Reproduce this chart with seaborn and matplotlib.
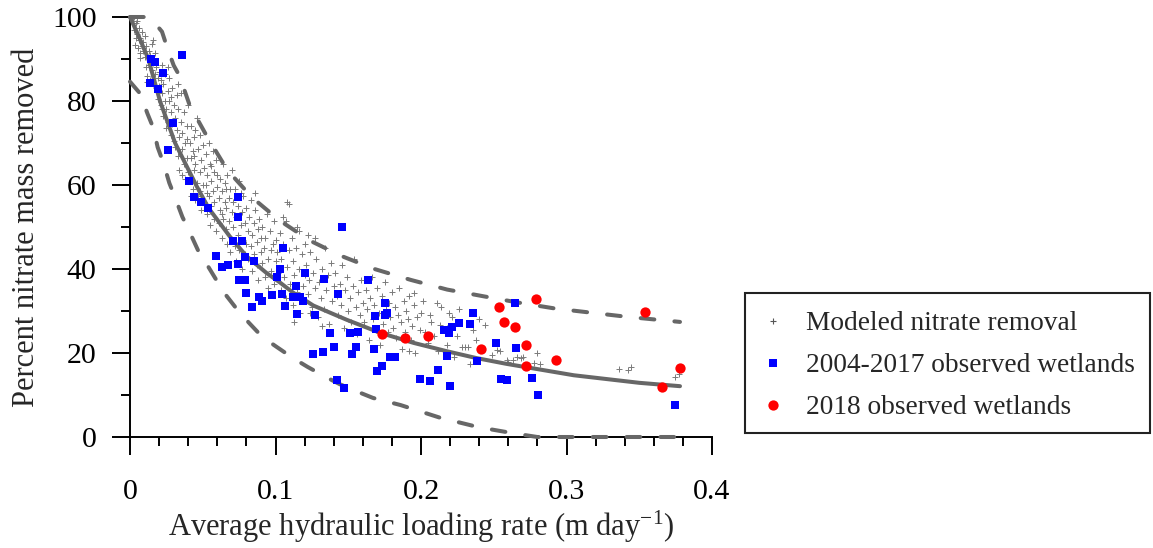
import matplotlib
matplotlib.use('Agg')
import matplotlib.pyplot as plt
import seaborn as sns
from matplotlib.ticker import MultipleLocator
from matplotlib.lines import Line2D
from matplotlib.patches import Rectangle

# ---------------- data ----------------
# modeled nitrate removal (small grey crosses)
mod_x = [
    0.002, 0.003, 0.004, 0.005, 0.006, 0.006, 0.007, 0.008, 0.008, 0.009, 0.009, 0.010, 0.004, 0.007, 0.003, 0.005, 0.010, 0.0034, 0.0055, 0.0069,
    0.011, 0.011, 0.012, 0.012, 0.013, 0.013, 0.014, 0.014, 0.015, 0.015, 0.016, 0.016, 0.017, 0.017, 0.018, 0.018, 0.019, 0.019, 0.020, 0.020, 0.012, 0.016,
    0.021, 0.021, 0.022, 0.022, 0.023, 0.023, 0.024, 0.024, 0.025, 0.025, 0.026, 0.026, 0.027, 0.027, 0.028, 0.028, 0.029, 0.029, 0.030, 0.030, 0.022, 0.026, 0.028,
    0.031, 0.031, 0.032, 0.032, 0.033, 0.033, 0.034, 0.034, 0.035, 0.035, 0.036, 0.036, 0.037, 0.037, 0.038, 0.038, 0.039, 0.039, 0.040, 0.040, 0.033, 0.036, 0.039,
    0.041, 0.041, 0.042, 0.042, 0.043, 0.043, 0.044, 0.044, 0.045, 0.045, 0.046, 0.046, 0.047, 0.047, 0.048, 0.048, 0.049, 0.049, 0.050, 0.050, 0.042, 0.045, 0.048, 0.044,
    0.051, 0.051, 0.052, 0.052, 0.053, 0.053, 0.054, 0.054, 0.055, 0.055, 0.056, 0.056, 0.057, 0.057, 0.058, 0.058, 0.059, 0.059, 0.060, 0.060, 0.053, 0.056, 0.058,
    0.061, 0.061, 0.062, 0.062, 0.063, 0.063, 0.064, 0.064, 0.065, 0.065, 0.066, 0.066, 0.067, 0.067, 0.068, 0.068, 0.069, 0.069, 0.070, 0.070, 0.063, 0.066,
    0.071, 0.071, 0.072, 0.072, 0.073, 0.073, 0.074, 0.074, 0.075, 0.075, 0.076, 0.077, 0.077, 0.078, 0.078, 0.079, 0.079, 0.080, 0.080, 0.076,
    0.081, 0.081, 0.082, 0.083, 0.083, 0.084, 0.084, 0.085, 0.085, 0.086, 0.087, 0.087, 0.088, 0.088, 0.089, 0.090, 0.090, 0.086,
    0.091, 0.091, 0.092, 0.093, 0.093, 0.094, 0.095, 0.095, 0.096, 0.097, 0.097, 0.098, 0.099, 0.099, 0.100, 0.100,
    0.101, 0.102, 0.103, 0.104, 0.104, 0.105, 0.106, 0.107, 0.107, 0.108, 0.109, 0.110, 0.111, 0.112, 0.112, 0.113, 0.114, 0.115, 0.116, 0.117,
    0.118, 0.119, 0.120, 0.120, 0.113, 0.109, 0.105, 0.108, 0.1146, 0.116, 0.122, 0.127,
    0.121, 0.122, 0.123, 0.124, 0.125, 0.126, 0.127, 0.128, 0.129, 0.130, 0.131, 0.132, 0.133, 0.134, 0.135, 0.136, 0.137, 0.138, 0.139, 0.140, 0.124, 0.132,
    0.141, 0.142, 0.143, 0.144, 0.145, 0.146, 0.147, 0.148, 0.149, 0.150, 0.151, 0.152, 0.153, 0.154, 0.155, 0.156, 0.157, 0.158, 0.159, 0.160,
    0.161, 0.162, 0.163, 0.164, 0.165, 0.166, 0.167, 0.168, 0.169, 0.170, 0.171, 0.172, 0.173, 0.174, 0.175, 0.176, 0.177, 0.178, 0.179, 0.180,
    0.181, 0.182, 0.183, 0.184, 0.185, 0.186, 0.187, 0.188, 0.189, 0.190, 0.191, 0.192, 0.193, 0.194, 0.195, 0.196, 0.197, 0.199, 0.200, 0.195, 0.192,
    0.2016, 0.211, 0.214, 0.207, 0.213, 0.2177, 0.230, 0.2326, 0.238, 0.203, 0.205, 0.209, 0.212, 0.218, 0.221, 0.223, 0.225, 0.228, 0.226, 0.234,
    0.236, 0.240, 0.219, 0.206,
    0.244, 0.2486, 0.252, 0.254, 0.259, 0.2635, 0.2658, 0.269, 0.2795, 0.278, 0.282, 0.260, 0.270, 0.336, 0.342, 0.344, 0.3746, 0.3775,
]
mod_y = [
    99, 97, 98.5, 96, 94.5, 97.5, 95, 93, 96.5, 92, 94, 95.5, 95, 91.5, 100, 99, 90.5, 93.3, 92.6, 90.2,
    93, 88, 90.5, 86, 92, 88.5, 85, 91, 87.5, 93.5, 84, 89, 86.5, 91.5, 83, 88, 85.5, 80.5, 87, 83.5, 84.5, 94.5,
    85, 79, 82, 88.5, 76.5, 84, 80, 86.5, 73.5, 78, 82.5, 75, 80, 85.5, 72, 77.5, 83, 74.5, 79, 70.5, 78, 88, 81,
    76, 69, 73, 81.5, 67, 78, 71.5, 63.5, 75, 82, 68.5, 72.5, 65, 77.5, 70, 61.5, 74, 66.5, 79, 63, 84, 62.5, 71,
    70, 62, 66.5, 74, 59, 68, 63.5, 71.5, 56.5, 65, 60.5, 76, 68.5, 57.5, 63, 72, 54, 66, 60, 69.5, 57.5, 73, 58.5, 67,
    64, 56, 67.5, 60, 53, 62.5, 70, 57.5, 65, 50.5, 61, 55, 68, 58.5, 63, 52, 66, 49, 59.5, 62.5, 58, 64.5, 56,
    57, 51, 61.5, 54, 47.5, 58.5, 65, 52, 56, 60.5, 49.5, 54.5, 62.5, 46, 57, 51.5, 59, 44, 53.5, 63.5, 53, 59,
    50, 56, 45.5, 59, 52.5, 42, 48, 55, 61, 44.5, 50.5, 53.5, 40, 47, 57.5, 43.5, 51, 54.5, 46, 58,
    49, 42.5, 52.5, 45.5, 56.5, 39.5, 48, 51, 43.5, 54, 46.5, 41, 49.5, 37.5, 52, 44, 47.5, 58,
    41.5, 50, 45, 38, 47.5, 53, 42.5, 35.5, 49, 44.5, 39.5, 46, 51.5, 36.5, 42, 47,
    44, 39, 48.5, 35, 42.5, 46, 38, 51.5, 33, 40.5, 44.5, 36.5, 47.5, 31.5, 42, 38.5, 45, 34.5, 40, 29.5,
    43.5, 36, 46, 38.5, 27.5, 55.5, 52.5, 56, 50, 49, 48, 47.5,
    41, 34, 37.5, 44, 31, 39, 35.5, 42.5, 28.5, 37, 33, 40, 30.5, 45, 35, 38.5, 27, 41.5, 32.5, 36, 29.5, 26.5,
    39, 33.5, 29, 36.5, 31.5, 41, 26, 35, 38, 30, 33, 27.5, 36, 42.5, 31, 24.5, 34.5, 29, 37.5, 32,
    27.5, 35, 30.5, 23, 33, 38, 28, 31.5, 25.5, 35.5, 29.5, 22, 33.5, 27, 37, 30.5, 25, 32, 28.5, 34.5,
    26, 31, 23.5, 29, 35.5, 27.5, 21, 32.5, 25, 30, 28, 33.5, 23, 26.5, 31.5, 20, 28.5, 25.5, 29.5, 34.2, 20.5,
    32.5, 32, 30.9, 27.5, 26.7, 25.9, 21.5, 21.4, 23.1, 25, 22.5, 24, 20.5, 22, 28.5, 19, 24, 21.5, 30.5, 17.5,
    25.5, 28, 29.5, 29,
    26.7, 19.5, 20.7, 20.5, 18.3, 18.3, 19.1, 18.7, 19.9, 17.7, 17.5, 17.9, 19.0, 16.1, 16.0, 16.6, 14.2, 15.0,
]

# 2004-2017 observed wetlands (blue squares)
obs_x = [
    0.036, 0.0142, 0.0172, 0.0225, 0.0137, 0.0192, 0.0296, 0.0264, 0.0408, 0.0442, 0.0488, 0.0538,
    0.0744, 0.0742, 0.1457, 0.0708, 0.0772, 0.105, 0.0589, 0.0788, 0.0854, 0.0635, 0.0676, 0.0742,
    0.1033, 0.1205, 0.1008, 0.1331, 0.1634, 0.0746, 0.0788, 0.1143, 0.080, 0.0889, 0.0905, 0.0836,
    0.0979, 0.1043, 0.112, 0.1168, 0.1427, 0.1187, 0.1067, 0.115, 0.1271, 0.175, 0.1764, 0.175,
    0.1686, 0.1375, 0.1514, 0.1567, 0.1689, 0.1402, 0.1555, 0.1679, 0.1256, 0.1326, 0.1523, 0.1789,
    0.1821, 0.1732, 0.1698, 0.142, 0.1473, 0.236, 0.2339, 0.2259, 0.2215, 0.216, 0.2195, 0.2177,
    0.2387, 0.2115, 0.1993, 0.2062, 0.2201, 0.2643, 0.2513, 0.2653, 0.2548, 0.2589, 0.2765, 0.2804,
    0.3746,
]
obs_y = [
    91, 90, 89.2, 86.7, 84.4, 82.9, 74.7, 68.3, 61, 57.1, 55.9, 54.6,
    57.1, 52.5, 49.9, 46.7, 46.7, 45, 43.2, 42.8, 42, 40.5, 41, 41.3,
    40.1, 39, 38, 37.6, 37.3, 37.5, 37.5, 36, 34.2, 33.4, 32.5, 31.0,
    33.7, 34, 33.3, 33.3, 34.1, 32.4, 31.3, 29.4, 29, 31.9, 29.5, 29.1,
    28.8, 24.8, 24.8, 25.1, 25.8, 21.4, 21.5, 21, 19.8, 20.2, 19.7, 19,
    19, 17, 15.6, 13.5, 11.7, 29.5, 26.9, 27.2, 26.2, 25.5, 24.7, 19.3,
    18.2, 16, 13.8, 13.3, 12.1, 32, 22.3, 21.1, 13.7, 13.6, 14, 10.1,
    7.6,
]

# 2018 observed wetlands (red circles)
new_x = [0.1734, 0.1888, 0.2046, 0.2412, 0.2534, 0.2793, 0.2573, 0.2648, 0.272, 0.272, 0.2928, 0.3537, 0.3656, 0.3782]
new_y = [24.5, 23.6, 24.0, 21.0, 31.0, 32.9, 27.5, 26.1, 21.9, 17.0, 18.3, 29.7, 12.0, 16.4]

# fitted model curve (solid) and its bounds (dashed)
fit_x = [0, 0.0065, 0.0126, 0.0206, 0.031, 0.0454, 0.054, 0.0687, 0.0802, 0.094, 0.103, 0.112,
         0.126, 0.149, 0.172, 0.195, 0.218, 0.238, 0.259, 0.305, 0.35, 0.378]
fit_y = [100, 95, 90, 80, 70, 60, 54.5, 47.7, 43, 39, 36.8, 34.4,
         31.3, 27.9, 24.8, 22.4, 20.4, 18.8, 17.4, 14.7, 12.9, 12.1]

up_x = [0, 0.011, 0.016, 0.022, 0.025, 0.030, 0.034, 0.041, 0.053, 0.067, 0.084, 0.103, 0.124,
        0.146, 0.168, 0.193, 0.218, 0.243, 0.267, 0.292, 0.317, 0.342, 0.366, 0.378]
up_y = [100, 100, 99.0, 96.5, 93.3, 88.5, 86, 79, 71.5, 63.5, 57, 51.5, 46.7,
        43, 40, 37.4, 35.1, 33.5, 32, 30.6, 29.6, 28.6, 27.8, 27.4]

lo_x = [0, 0.0069, 0.012, 0.016, 0.019, 0.023, 0.027, 0.031, 0.036, 0.041, 0.048, 0.053, 0.060,
        0.065, 0.074, 0.082, 0.091, 0.101, 0.112, 0.122, 0.134, 0.144, 0.157, 0.167, 0.186, 0.213,
        0.240, 0.265, 0.280, 0.378]
lo_y = [84.6, 81.8, 77, 73.6, 69, 65.2, 60.5, 57, 52.4, 48.8, 43.5, 41, 37,
        34.2, 30.2, 27.1, 23.8, 21.4, 18.8, 16.7, 14.4, 12.6, 10.7, 9.3, 7.6, 4.6,
        2.3, 0.8, 0, 0]

x_ticks = [0, 0.1, 0.2, 0.3, 0.4]
x_ticklabels = ['0', '0.1', '0.2', '0.3', '0.4']
y_ticks = [0, 20, 40, 60, 80, 100]
y_ticklabels = ['0', '20', '40', '60', '80', '100']
legend_labels = ['Modeled nitrate removal', '2004-2017 observed wetlands', '2018 observed wetlands']

# ---------------- style ----------------
sns.set_style('ticks')
plt.rcParams['font.family'] = ['Liberation Serif', 'DejaVu Serif']
plt.rcParams['mathtext.fontset'] = 'custom'
plt.rcParams['mathtext.rm'] = 'Liberation Serif'
plt.rcParams['mathtext.it'] = 'Liberation Serif:italic'
plt.rcParams['mathtext.bf'] = 'Liberation Serif:bold'

W, H = 1153, 548
fig = plt.figure(figsize=(W / 100, H / 100), dpi=100)
ax = fig.add_axes([130 / W, 111 / H, 582 / W, 420 / H])

curve_col = '#676767'
dash = (0, (3.4, 5.0))

sns.scatterplot(x=mod_x, y=mod_y, marker='+', s=16, color='#7a7a7a', linewidth=0.7,
                ax=ax, zorder=2, legend=False)
sns.lineplot(x=fit_x, y=fit_y, sort=False, color=curve_col, lw=2.9, ax=ax, zorder=3,
             legend=False, clip_on=False)
sns.lineplot(x=up_x, y=up_y, sort=False, color=curve_col, lw=2.9, linestyle=dash,
             dash_capstyle='round', ax=ax, zorder=3, legend=False, clip_on=False)
sns.lineplot(x=lo_x, y=lo_y, sort=False, color=curve_col, lw=2.9, linestyle=dash,
             dash_capstyle='round', ax=ax, zorder=3, legend=False, clip_on=False)
sns.scatterplot(x=obs_x, y=obs_y, marker='s', s=30, color='#0000ff', linewidth=0,
                ax=ax, zorder=4, legend=False)
sns.scatterplot(x=new_x, y=new_y, marker='o', s=55, color='#ff0000', linewidth=0,
                ax=ax, zorder=5, legend=False)

ax.set_xlim(0, 0.4)
ax.set_ylim(0, 100)
ax.set_xticks(x_ticks)
ax.set_xticklabels(x_ticklabels)
ax.set_yticks(y_ticks)
ax.set_yticklabels(y_ticklabels)
ax.xaxis.set_minor_locator(MultipleLocator(0.02))
ax.yaxis.set_minor_locator(MultipleLocator(10))
ax.tick_params(which='major', direction='out', length=13, width=1.4, colors='black',
               labelsize=21.5)
ax.tick_params(which='minor', direction='out', length=6.5, width=1.4, colors='black')
ax.tick_params(axis='x', which='major', pad=17)
ax.tick_params(axis='y', which='major', pad=11)
for s in ['top', 'right']:
    ax.spines[s].set_visible(False)
for s in ['left', 'bottom']:
    ax.spines[s].set_linewidth(1.4)
    ax.spines[s].set_color('black')

ax.set_xlabel(r'Average hydraulic loading rate (m day$^{\mathregular{-1}}$)', fontsize=22, labelpad=3)
ax.set_ylabel('Percent nitrate mass removed', fontsize=22, labelpad=8)

# legend box
fig.patches.append(Rectangle((745 / W, (H - 433) / H), 405 / W, 140 / H,
                             transform=fig.transFigure, fill=False, edgecolor='#222222',
                             linewidth=1.5, zorder=1))
handles = [
    Line2D([], [], ls='', marker='+', markersize=5, markeredgewidth=0.8, color='#555555'),
    Line2D([], [], ls='', marker='s', markersize=5.4, markeredgewidth=0, color='#0000ff'),
    Line2D([], [], ls='', marker='o', markersize=7.4, markeredgewidth=0, color='#ff0000'),
]
fig.legend(handles, legend_labels, loc='upper left', bbox_to_anchor=(760 / W, (H - 311) / H),
           frameon=False, fontsize=19.7, handlelength=0.95, handletextpad=0.72,
           labelspacing=0.62, borderpad=0, borderaxespad=0)

fig.savefig('out.png', dpi=100)
